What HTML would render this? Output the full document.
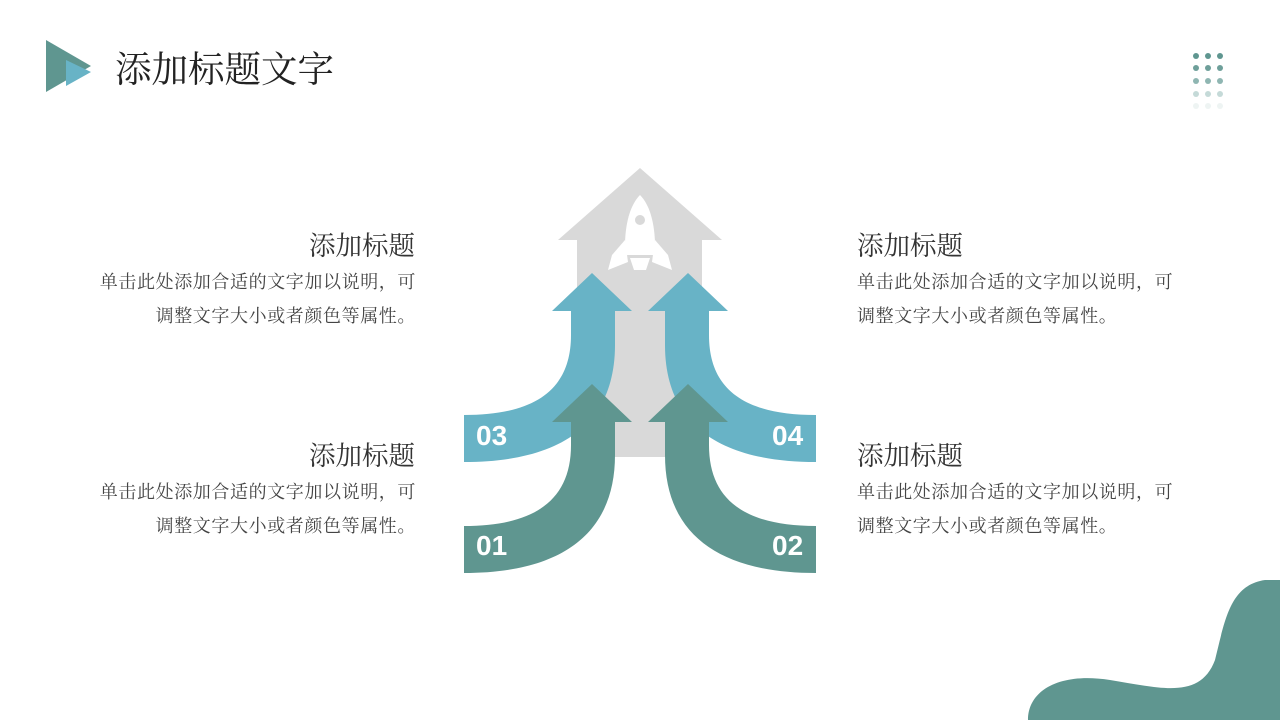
<!DOCTYPE html>
<html><head><meta charset="utf-8"><style>
body{margin:0;width:1280px;height:720px;background:#fff;overflow:hidden;position:relative;font-family:"Liberation Serif","Noto Serif CJK SC",serif;color:#333}
.t{position:absolute;white-space:nowrap}
.h{font-size:26.5px;color:#333}
.p{font-size:18px;letter-spacing:0.6px;color:#444;line-height:34px}
.r{text-align:right}
</style></head><body>
<svg width="1280" height="720" style="position:absolute;left:0;top:0">
<polygon points="46,40 91,66 46,92" fill="#5f9690"/>
<polygon points="66,60 91,72 66,86" fill="#68b3c6"/>
<g>
<circle cx="1196" cy="56" r="3" fill="#5f9690"/><circle cx="1208" cy="56" r="3" fill="#5f9690"/><circle cx="1220" cy="56" r="3" fill="#5f9690"/>
<circle cx="1196" cy="68" r="3" fill="#6e9f9a"/><circle cx="1208" cy="68" r="3" fill="#6e9f9a"/><circle cx="1220" cy="68" r="3" fill="#6e9f9a"/>
<circle cx="1196" cy="81" r="3" fill="#8fb6b2"/><circle cx="1208" cy="81" r="3" fill="#8fb6b2"/><circle cx="1220" cy="81" r="3" fill="#8fb6b2"/>
<circle cx="1196" cy="94" r="3" fill="#c5dad8"/><circle cx="1208" cy="94" r="3" fill="#c5dad8"/><circle cx="1220" cy="94" r="3" fill="#c5dad8"/>
<circle cx="1196" cy="106" r="3" fill="#eef4f3"/><circle cx="1208" cy="106" r="3" fill="#eef4f3"/><circle cx="1220" cy="106" r="3" fill="#eef4f3"/>
</g>
<polygon points="640,168 722,240 702,240 702,457 577,457 577,240 558,240" fill="#d9d9d9"/>
<g fill="#fff">
<path d="M640,195 C630,205 624,225 625,255 L655,255 C656,225 650,205 640,195 Z"/>
<polygon points="625,240 612,255 608,270 628,262"/>
<polygon points="655,240 668,255 672,270 652,262"/>
<polygon points="630,258 650,258 646,270 634,270"/>
</g>
<circle cx="640" cy="220" r="5" fill="#d9d9d9"/>
<g fill="#68b3c6">
<path d="M464,415 C535,415 571,390 571,335 L571,311 L552,311 L592,273 L632,311 L615,311 L615,345 C615,425 560,462 464,462 Z"/>
<path transform="translate(1280,0) scale(-1,1)" d="M464,415 C535,415 571,390 571,335 L571,311 L552,311 L592,273 L632,311 L615,311 L615,345 C615,425 560,462 464,462 Z"/>
</g>
<g fill="#5f9690">
<path d="M464,526 C535,526 571,500 571,445 L571,422 L552,422 L592,384 L632,422 L615,422 L615,455 C615,535 560,573 464,573 Z"/>
<path transform="translate(1280,0) scale(-1,1)" d="M464,526 C535,526 571,500 571,445 L571,422 L552,422 L592,384 L632,422 L615,422 L615,455 C615,535 560,573 464,573 Z"/>
</g>
<g font-family="Liberation Sans, sans-serif" font-weight="bold" font-size="28" fill="#fff">
<text x="476" y="445">03</text><text x="772" y="445">04</text>
<text x="476" y="555">01</text><text x="772" y="555">02</text>
</g>
<path d="M1028,720 C1028,690 1060,672 1110,680 C1160,688 1200,700 1215,660 C1225,620 1230,585 1265,580 L1280,580 L1280,720 Z" fill="#5f9690"/>
</svg>
<div class="t" style="left:115px;top:41px;font-size:36.5px;color:#222">添加标题文字</div>
<div class="t h r" style="right:865px;top:224px">添加标题</div>
<div class="t p r" style="right:864px;top:265px">单击此处添加合适的文字加以说明，可<br>调整文字大小或者颜色等属性。</div>
<div class="t h r" style="right:865px;top:434px">添加标题</div>
<div class="t p r" style="right:864px;top:475px">单击此处添加合适的文字加以说明，可<br>调整文字大小或者颜色等属性。</div>
<div class="t h" style="left:857px;top:224px">添加标题</div>
<div class="t p" style="left:857px;top:265px">单击此处添加合适的文字加以说明，可<br>调整文字大小或者颜色等属性。</div>
<div class="t h" style="left:857px;top:434px">添加标题</div>
<div class="t p" style="left:857px;top:475px">单击此处添加合适的文字加以说明，可<br>调整文字大小或者颜色等属性。</div>
</body></html>
